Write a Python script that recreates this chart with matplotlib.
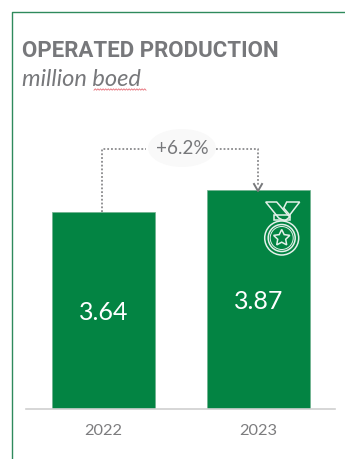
import matplotlib.pyplot as plt
import numpy as np
from matplotlib.patches import Circle, Ellipse, Polygon

years = ["2022", "2023"]
production = [3.64, 3.87]
change_label = "+6.2%"

GREEN = "#038443"
GREY = "#77787b"
WIDTH, HEIGHT = 345, 459


def star_points(cx, cy, outer, inner):
    angles = np.deg2rad(np.arange(10) * 36 - 90)
    radii = np.where(np.arange(10) % 2 == 0, outer, inner)
    return np.column_stack([cx + radii * np.cos(angles), cy + radii * np.sin(angles)])


def draw_medal(ax, cx, cy):
    line = dict(fill=False, edgecolor="#e4f1ea", linewidth=1.1)
    ax.add_patch(Circle((cx, cy), 17, **line))
    ax.add_patch(Circle((cx, cy), 13.5, **line))
    ax.add_patch(Circle((cx, cy), 11.5, linewidth=0.7, fill=False, edgecolor="#e4f1ea"))
    ax.add_patch(Polygon(star_points(cx, cy, 8.5, 4.2), closed=True, **line))
    # ribbon crossing above the ring
    ax.add_patch(Polygon([(cx - 16, cy - 36), (cx - 5, cy - 36), (cx + 8, cy - 21),
                          (cx + 3, cy - 17), (cx - 3, cy - 20)], closed=True, **line))
    ax.add_patch(Polygon([(cx + 5, cy - 36), (cx + 18, cy - 36), (cx + 8, cy - 23),
                          (cx + 2, cy - 30)], closed=True, **line))
    ax.add_patch(Polygon([(cx - 8, cy - 23), (cx + 8, cy - 23), (cx + 8, cy - 18),
                          (cx - 8, cy - 18)], closed=True, **line))


def draw_squiggle(ax, x0, x1, y):
    xs = np.arange(x0, x1 + 0.1, 1.3)
    ys = y + 0.7 * (-1.0) ** np.arange(len(xs))
    ax.plot(xs, ys, color="#e8707a", linewidth=0.6)


def main():
    fig = plt.figure(figsize=(WIDTH / 100, HEIGHT / 100), dpi=100, facecolor="white")

    # bar axes, baseline sits 50 px above the bottom edge
    ax = fig.add_axes([26 / WIDTH, 50 / HEIGHT, 309 / WIDTH, 230 / HEIGHT])
    ax.bar(years, production, width=0.667, color=GREEN, edgecolor="#6fb08e", linewidth=0.5)
    ax.set_xlim(-0.498, 1.493)
    ax.set_ylim(1.533, 1.533 + 230 / 93.5)
    ax.patch.set_alpha(0)
    for side in ["top", "right", "left"]:
        ax.spines[side].set_visible(False)
    ax.spines["bottom"].set_color("#d0d0d0")
    ax.spines["bottom"].set_linewidth(1.2)
    ax.set_yticks([])
    ax.tick_params(axis="x", length=0, pad=11, labelsize=11.8, labelcolor="#7c7c7e")
    for label in ax.get_xticklabels():
        label.set_family("Lato")
    for i, value in enumerate(production):
        ax.text(i, 1.533 + (value - 1.533) / 2 - 0.022, f"{value:.2f}", color="white",
                ha="center", va="center", fontsize=18, family="Lato")

    # overlay in pixel coordinates for the frame, titles and annotation
    over = fig.add_axes([0, 0, 1, 1])
    over.set_xlim(0, WIDTH)
    over.set_ylim(HEIGHT, 0)
    over.axis("off")
    over.patch.set_alpha(0)

    over.plot([11.5, 11.5, WIDTH], [HEIGHT, 12, 12], color="#2f8a5c", linewidth=1.0)
    over.text(22, 51.2, "OPERATED PRODUCTION", color=GREY, fontsize=16.05,
              fontweight="bold", family="Roboto", va="center")
    over.text(22, 79, "million boed", color=GREY, fontsize=17,
              style="italic", family="Lato", va="center")
    draw_squiggle(over, 94, 146, 89.5)

    over.add_patch(Ellipse((182, 148), 68, 38, color="#f9f9f9", linewidth=0))
    over.text(182, 149, change_label, color=GREY, fontsize=13.6, family="Lato",
              ha="center", va="center")

    dotted = dict(color="#8a8a8c", linewidth=1.3, linestyle=(0, (1, 1.1)))
    over.plot([102, 102, 146], [212, 148.5, 148.5], **dotted)
    over.plot([216, 258, 258], [148.5, 148.5, 186], **dotted)
    over.plot([254, 258, 262], [184, 191, 184], color="#77787b", linewidth=1.4)

    draw_medal(over, 281.7, 238)

    fig.savefig("out.png", dpi=100)


if __name__ == "__main__":
    main()
